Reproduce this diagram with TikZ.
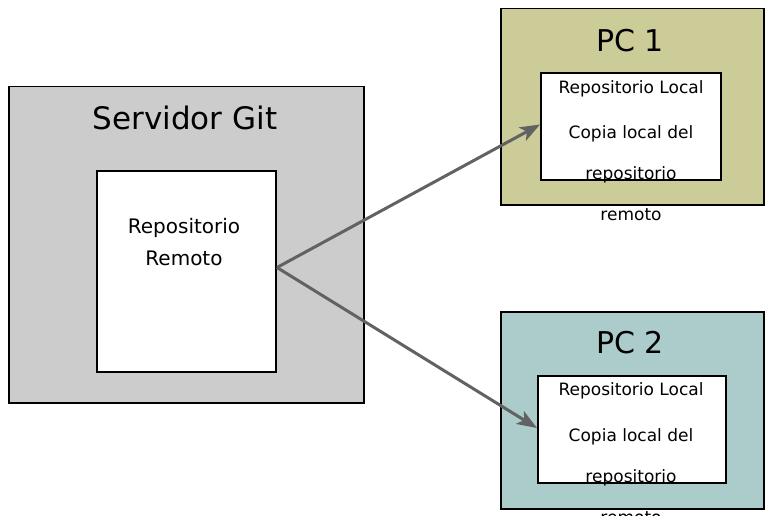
\documentclass[tikz,border=0pt]{standalone}
\usepackage{fontspec}
\setmainfont{DejaVu Sans}
\usetikzlibrary{arrows.meta}
\definecolor{srvgray}{RGB}{204,204,204}
\definecolor{pconefill}{RGB}{204,204,153}
\definecolor{pctwofill}{RGB}{172,203,203}
\definecolor{arrgray}{RGB}{98,98,100}
\tikzset{
  outerbox/.style={draw=black, line width=1.5pt, inner sep=0pt, anchor=north west},
  innerbox/.style={draw=black, fill=white, line width=2pt, inner sep=0pt, anchor=north west},
  bigtitle/.style={inner sep=0pt, font=\fontsize{30}{36}\selectfont},
  smalltext/.style={inner sep=0pt, font=\fontsize{17}{41}\selectfont, align=center},
  conn/.style={draw=arrgray, line width=3pt, -{Stealth[length=20pt,width=15pt,inset=5pt]}}
}
\begin{document}
\begin{tikzpicture}[x=1pt,y=-1pt]
\useasboundingbox (0,0) rectangle (771,516);
% Server
\node[outerbox, fill=srvgray, minimum width=355pt, minimum height=316pt] (srv) at (8,86) {};
\node[bigtitle, font=\fontsize{31}{37}\selectfont] (srvtitle) at (185,118) {Servidor Git};
\node[innerbox, minimum width=179pt, minimum height=201pt] (remote) at (96,170) {};
\node[inner sep=0pt, font=\fontsize{20}{32}\selectfont, align=center, anchor=north] (remotetext) at (184,218) {Repositorio\\Remoto};
% PC 1
\node[outerbox, fill=pconefill, minimum width=263pt, minimum height=196pt] (pcone) at (500,8) {};
\node[bigtitle] (pconetitle) at (630,41) {PC 1};
\node[innerbox, minimum width=180pt, minimum height=107pt] (localone) at (540,72) {};
\node[smalltext] (localonetitle) at (631,89) {Repositorio Local};
\node[smalltext, anchor=north] (localonetext) at (631,125) {Copia local del\\repositorio\\remoto};
% PC 2
\node[outerbox, fill=pctwofill, minimum width=263pt, minimum height=197pt] (pctwo) at (500,311) {};
\node[bigtitle] (pctwotitle) at (630,343) {PC 2};
\node[innerbox, minimum width=188pt, minimum height=107pt] (localtwo) at (537,375) {};
\node[smalltext] (localtwotitle) at (631,391) {Repositorio Local};
\node[smalltext, anchor=north] (localtwotext) at (631,428) {Copia local del\\repositorio\\remoto};
% connectors
\draw[conn] ([yshift=4pt]remote.east) -- ([yshift=2pt]localone.west);
\draw[conn] ([yshift=4pt]remote.east) -- ([yshift=1.5pt]localtwo.west);
\end{tikzpicture}
\end{document}
